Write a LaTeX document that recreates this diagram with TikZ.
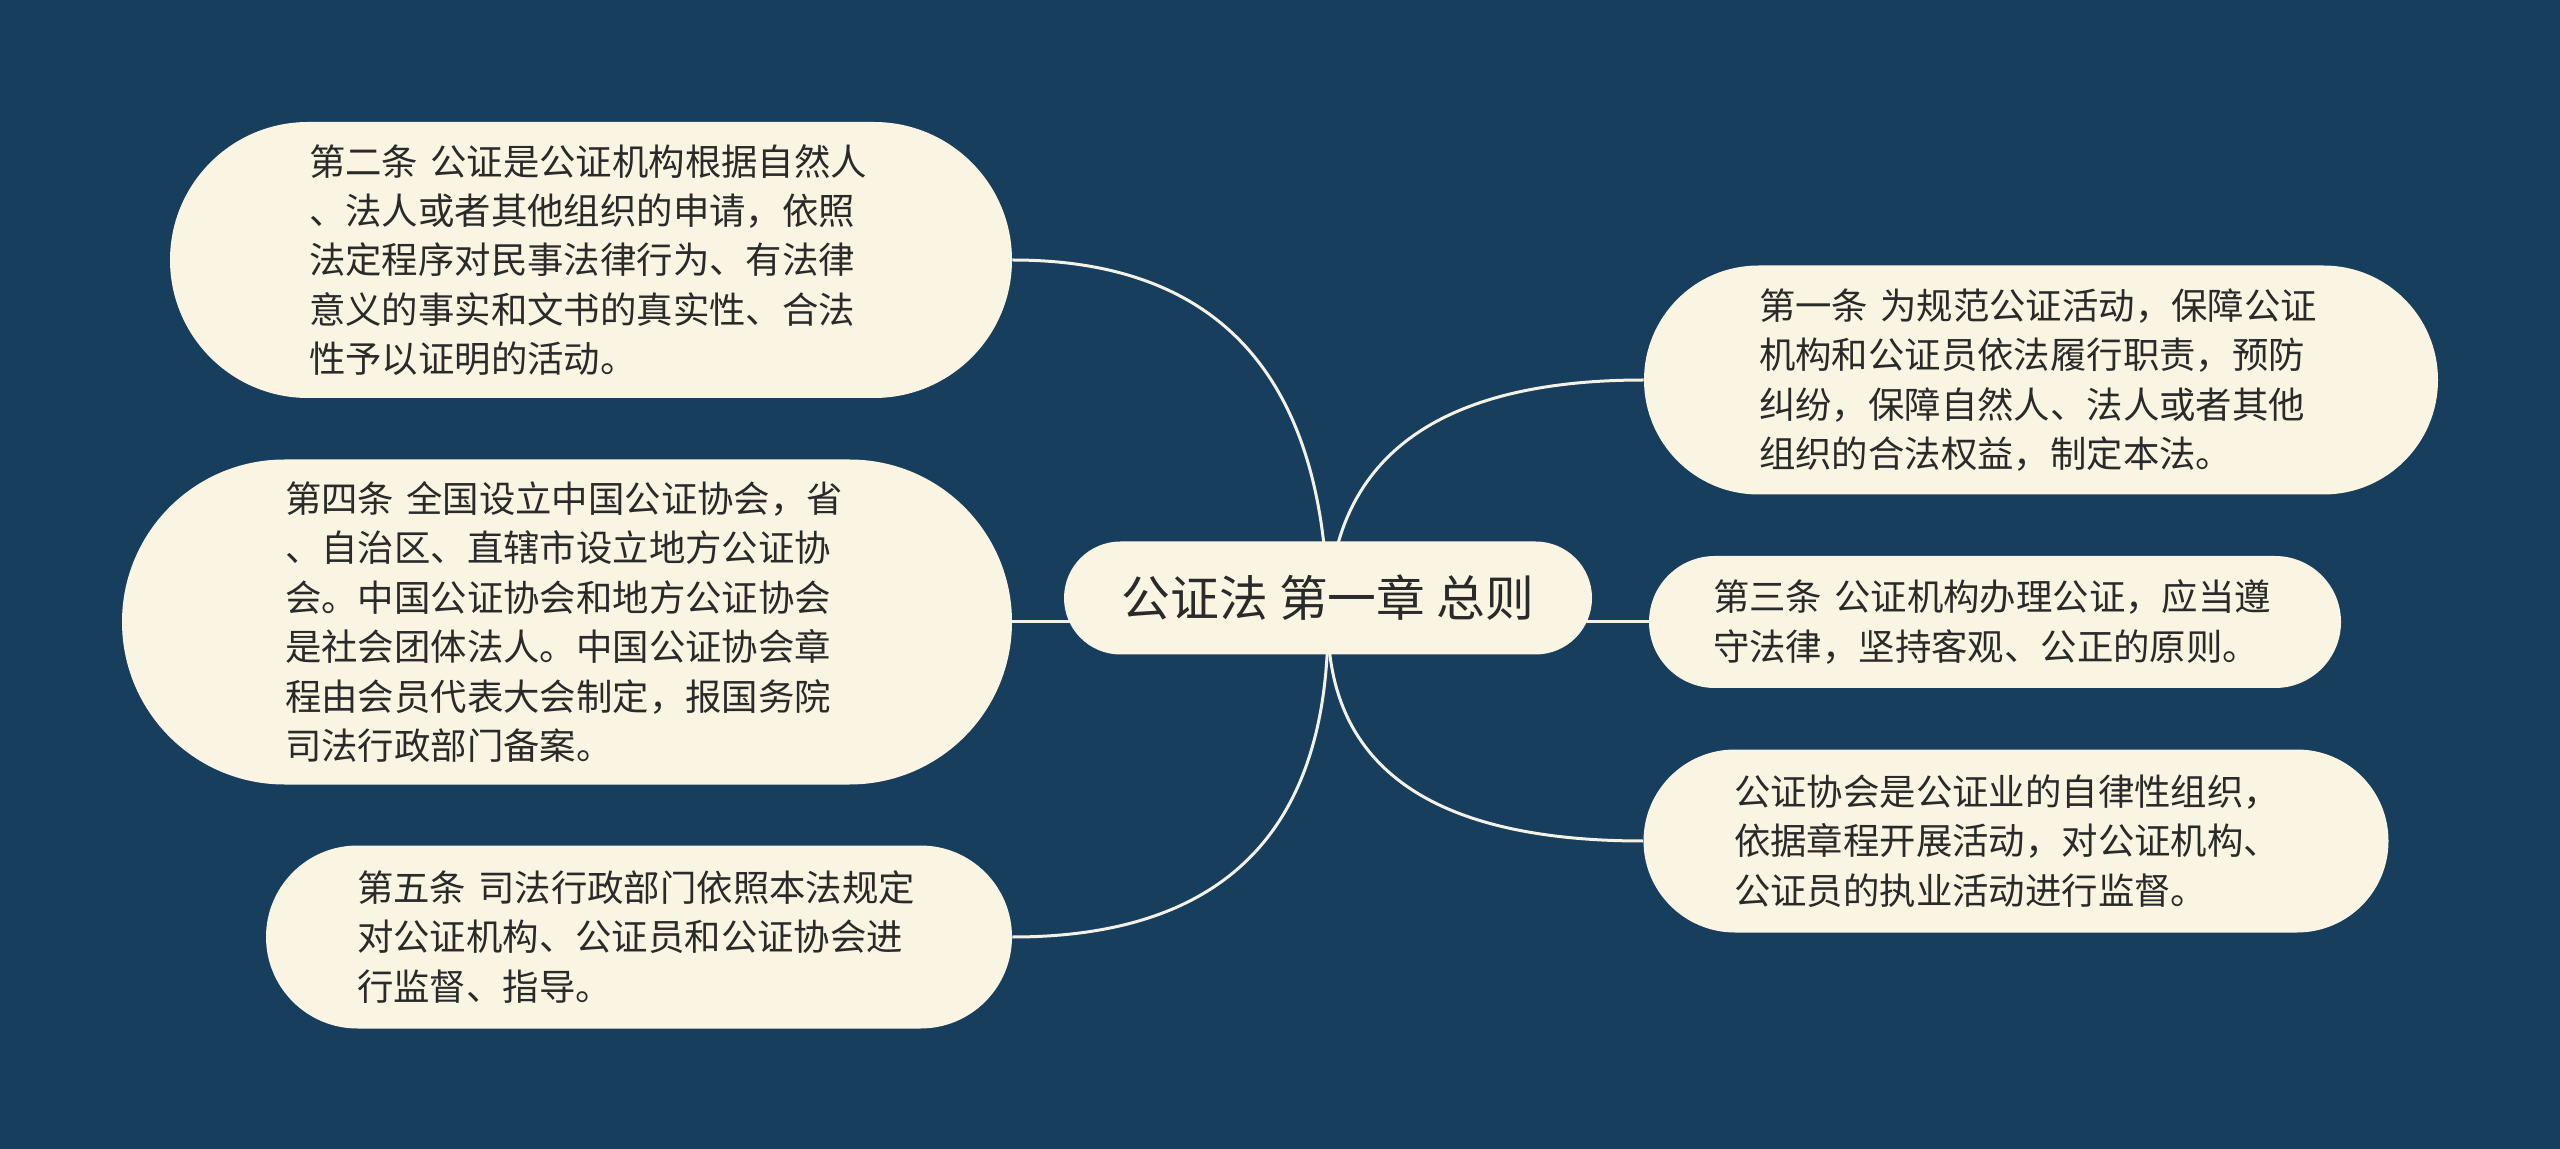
\documentclass[tikz,border=0pt]{standalone}
\usepackage{fontspec}
\setmainfont{Noto Sans CJK SC}
\usetikzlibrary{shapes.misc,calc,backgrounds}
\definecolor{bg}{HTML}{183E5E}
\definecolor{boxfill}{HTML}{FAF5E2}
\definecolor{txt}{HTML}{2A2A2A}
\definecolor{linkc}{HTML}{F4F1E6}
\begin{document}
\begin{tikzpicture}[x=0.5pt,y=-0.5pt,
  leaf/.style={rounded rectangle, fill=boxfill, text=txt, align=left,
    text width=282pt, font=\fontsize{18.2}{24.7}\selectfont, inner sep=0pt},
  root/.style={rounded rectangle, fill=boxfill, text=txt,
    font=\fontsize{24.4}{30}\selectfont, inner sep=0pt,
    minimum width=264pt, minimum height=56.5pt},
  link/.style={draw=linkc, line width=1.5pt}]
\useasboundingbox (0,0) rectangle (2560,1149);

\node[root] (root) at (1328,598) {公证法 第一章 总则};
\coordinate (o) at (1328,622);

\node[leaf, minimum width=421pt, minimum height=138pt] (n2) at (591,260)
  {第二条 公证是公证机构根据自然人\\、法人或者其他组织的申请，依照\\法定程序对民事法律行为、有法律\\意义的事实和文书的真实性、合法\\性予以证明的活动。};
\node[leaf, minimum width=445pt, minimum height=162.5pt] (n4) at (567,622)
  {第四条 全国设立中国公证协会，省\\、自治区、直辖市设立地方公证协\\会。中国公证协会和地方公证协会\\是社会团体法人。中国公证协会章\\程由会员代表大会制定，报国务院\\司法行政部门备案。};
\node[leaf, minimum width=373pt, minimum height=91.5pt] (n5) at (639,937)
  {第五条 司法行政部门依照本法规定\\对公证机构、公证员和公证协会进\\行监督、指导。};
\node[leaf, minimum width=397pt, minimum height=114.5pt] (n1) at (2041,380)
  {第一条 为规范公证活动，保障公证\\机构和公证员依法履行职责，预防\\纠纷，保障自然人、法人或者其他\\组织的合法权益，制定本法。};
\node[leaf, minimum width=346pt, minimum height=66pt] (n3) at (1995,622)
  {第三条 公证机构办理公证，应当遵\\守法律，坚持客观、公正的原则。};
\node[leaf, minimum width=372.5pt, minimum height=91.5pt] (n6) at (2016,841)
  {公证协会是公证业的自律性组织，\\依据章程开展活动，对公证机构、\\公证员的执业活动进行监督。};

\begin{pgfonlayer}{background}
\fill[bg] (0,0) rectangle (2560,1149);
\draw[link] (o) .. controls ($(o)!0.6667!(o|-n2.east)$) and ($(n2.east)!0.6667!(o|-n2.east)$) .. (n2.east);
\draw[link] (o) -- (n4.east);
\draw[link] (o) .. controls ($(o)!0.6667!(o|-n5.east)$) and ($(n5.east)!0.6667!(o|-n5.east)$) .. (n5.east);
\draw[link] (o) .. controls ($(o)!0.6667!(o|-n1.west)$) and ($(n1.west)!0.6667!(o|-n1.west)$) .. (n1.west);
\draw[link] (o) -- (n3.west);
\draw[link] (o) .. controls ($(o)!0.6667!(o|-n6.west)$) and ($(n6.west)!0.6667!(o|-n6.west)$) .. (n6.west);
\end{pgfonlayer}
\end{tikzpicture}
\end{document}
